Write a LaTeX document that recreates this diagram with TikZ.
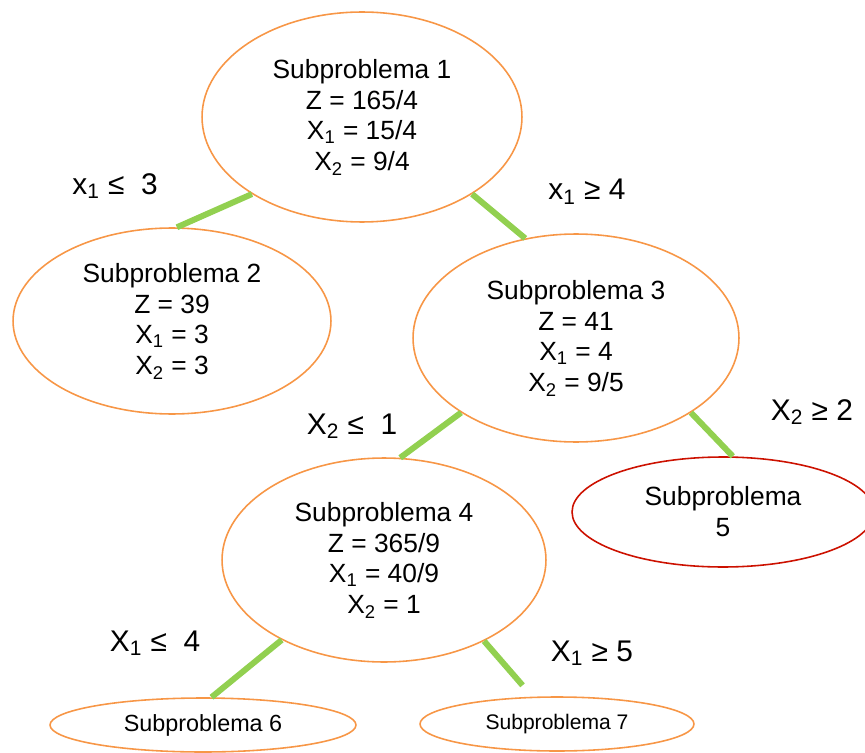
\documentclass[tikz,border=0pt]{standalone}
\usepackage{fontspec}
\setmainfont{Liberation Sans}
\usetikzlibrary{shapes.geometric}

\definecolor{nodeorange}{RGB}{247,150,70}
\definecolor{nodered}{RGB}{204,17,0}
\definecolor{branchgreen}{RGB}{146,208,80}

\begin{document}
\begin{tikzpicture}[x=0.02cm,y=-0.02cm,
  sub/.style={ellipse,draw=nodeorange,line width=0.9pt,inner sep=0pt,align=center,
    font=\fontsize{15}{17.6}\selectfont},
  branch/.style={draw=branchgreen,line width=3.4pt},
  branchlabel/.style={inner sep=0pt,font=\fontsize{17}{20}\selectfont}]
  \useasboundingbox (0,0) rectangle (865,753);

  % subproblems
  \node[sub,minimum width=6.4cm,minimum height=4.2cm] (sp1) at (362,117)
    {Subproblema 1\\Z = 165/4\\X\textsubscript{1} = 15/4\\X\textsubscript{2} = 9/4};
  \node[sub,minimum width=6.36cm,minimum height=3.72cm] (sp2) at (172,321)
    {Subproblema 2\\Z = 39\\X\textsubscript{1} = 3\\X\textsubscript{2} = 3};
  \node[sub,minimum width=6.52cm,minimum height=4.16cm] (sp3) at (576,338)
    {Subproblema 3\\Z = 41\\X\textsubscript{1} = 4\\X\textsubscript{2} = 9/5};
  \node[sub,minimum width=6.48cm,minimum height=4.08cm] (sp4) at (384,560)
    {Subproblema 4\\Z = 365/9\\X\textsubscript{1} = 40/9\\X\textsubscript{2} = 1};
  \node[sub,draw=nodered,minimum width=6.04cm,minimum height=2.2cm] (sp5) at (723,512)
    {Subproblema\\5};
  \node[sub,minimum width=6.12cm,minimum height=1.08cm,font=\fontsize{13.3}{16}\selectfont] (sp6) at (203,725)
    {Subproblema 6};
  \node[sub,minimum width=5.48cm,minimum height=1.08cm,font=\fontsize{12}{14}\selectfont] (sp7) at (557,724)
    {Subproblema 7};

  % branches
  \draw[branch] (sp1.215) -- (sp2.87);
  \draw[branch] (sp1.325) -- (sp3.117);
  \draw[branch] (sp3.213) -- (sp4.81);
  \draw[branch] (sp3.327) -- (sp5.80);
  \draw[branch] (sp4.218) -- (sp6.73);
  \draw[branch,shorten >=0.3cm] (sp4.321) -- (sp7.132);

  % branch labels
  \node[branchlabel] (lb1) at (115,186) {x\textsubscript{1} ≤\ \ 3};
  \node[branchlabel] (lb2) at (587,192) {x\textsubscript{1} ≥ 4};
  \node[branchlabel] (lb3) at (352,426) {X\textsubscript{2} ≤\ \ 1};
  \node[branchlabel] (lb4) at (812,412) {X\textsubscript{2} ≥ 2};
  \node[branchlabel] (lb5) at (155,643) {X\textsubscript{1} ≤\ \ 4};
  \node[branchlabel] (lb6) at (592,653) {X\textsubscript{1} ≥ 5};
\end{tikzpicture}
\end{document}
